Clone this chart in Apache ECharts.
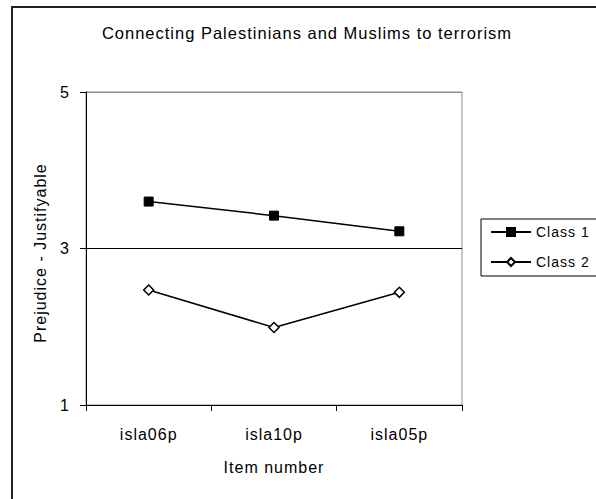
<!DOCTYPE html>
<html>
<head>
<meta charset="utf-8">
<script src="https://cdn.jsdelivr.net/npm/echarts@6/dist/echarts.min.js"></script>
<style>html,body{margin:0;padding:0;background:#fff;}#c{width:596px;height:499px;}#c text{letter-spacing:1px;}</style>
</head>
<body>
<div id="c"></div>
<script>
const titleText = 'Connecting Palestinians and Muslims to terrorism';
const categories = ['isla06p', 'isla10p', 'isla05p'];
const class1 = [3.60, 3.42, 3.22];
const class2 = [2.47, 1.99, 2.44];
const seriesNames = ['Class 1', 'Class 2'];
const yTicks = [1, 3, 5];
const xName = 'Item number';
const yName = 'Prejudice - Justifyable';

const FONT = 'Liberation Sans, Arial, sans-serif';
const chart = echarts.init(document.getElementById('c'), null, {renderer: 'svg'});
chart.setOption({
  animation: false,
  backgroundColor: '#fff',
  textStyle: {fontFamily: FONT},
  graphic: [{
    type: 'rect',
    shape: {x: 12, y: 7, width: 800, height: 800},
    style: {fill: 'none', stroke: '#222', lineWidth: 2},
    silent: true, z: -1
  }, {
    type: 'text', x: 307, y: 33,
    style: {text: titleText, align: 'center', verticalAlign: 'middle',
            font: 'normal 16.5px Liberation Sans, Arial, sans-serif', fill: '#000'},
    silent: true
  }],
  legend: {
    orient: 'vertical', left: 481, top: 219,
    padding: [6, 14, 7, 9], itemGap: 16, itemWidth: 40, itemHeight: 10,
    borderColor: '#000', borderWidth: 1, backgroundColor: '#fff',
    textStyle: {fontFamily: FONT, fontSize: 14, color: '#000'},
    data: seriesNames
  },
  grid: {
    left: 86, top: 92, width: 376, height: 313,
    show: true, borderColor: '#8c8c8c', borderWidth: 1, backgroundColor: '#fff'
  },
  xAxis: {
    type: 'category', data: categories, boundaryGap: true,
    name: xName, nameLocation: 'middle', nameGap: 54,
    nameTextStyle: {fontFamily: FONT, fontSize: 16, color: '#000'},
    axisLine: {lineStyle: {color: '#000', width: 1}},
    axisTick: {show: true, length: 6, lineStyle: {color: '#000'}},
    axisLabel: {margin: 21, fontFamily: FONT, fontSize: 16, color: '#000'}
  },
  yAxis: {
    type: 'value', min: yTicks[0], max: yTicks[yTicks.length - 1], interval: yTicks[1] - yTicks[0],
    name: yName, nameLocation: 'middle', nameGap: 38, nameRotate: 90,
    nameTextStyle: {fontFamily: FONT, fontSize: 16, color: '#000', padding: [0, 9, 0, 0]},
    axisLine: {show: true, lineStyle: {color: '#000', width: 1}},
    axisTick: {show: true, length: 6, lineStyle: {color: '#000'}},
    axisLabel: {margin: 16, fontFamily: FONT, fontSize: 16, color: '#000'},
    splitLine: {show: true, lineStyle: {color: ['#000', '#000', '#8c8c8c'], width: 1}}
  },
  series: [{
    name: seriesNames[0], type: 'line', data: class1,
    symbol: 'rect', symbolSize: 9,
    lineStyle: {color: '#000', width: 1.5},
    itemStyle: {color: '#000', borderColor: '#000', borderWidth: 1}
  }, {
    name: seriesNames[1], type: 'line', data: class2,
    symbol: 'diamond', symbolSize: 10,
    lineStyle: {color: '#000', width: 1.5},
    itemStyle: {color: '#fff', borderColor: '#000', borderWidth: 1.5}
  }]
});
</script>
</body>
</html>
